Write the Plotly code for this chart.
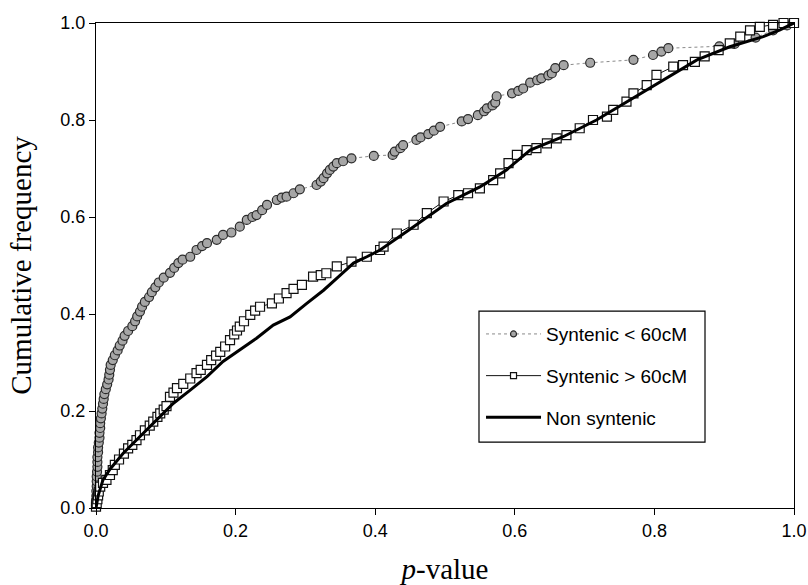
import plotly.graph_objects as go

# Syntenic < 60cM (circles)
syn_lt_x = [0.000, 0.000, 0.0005, 0.0005, 0.001, 0.001, 0.001, 0.0015, 0.002, 0.002,
            0.002, 0.003, 0.003, 0.004, 0.005, 0.005, 0.006, 0.006, 0.007, 0.008,
            0.009, 0.010, 0.011, 0.012, 0.014, 0.016, 0.018, 0.019, 0.020, 0.021,
            0.024, 0.027, 0.031, 0.034, 0.038, 0.041, 0.046, 0.052, 0.056, 0.059,
            0.063, 0.066, 0.070, 0.076, 0.080, 0.085, 0.090, 0.097, 0.106, 0.112,
            0.118, 0.124, 0.135, 0.144, 0.152, 0.159, 0.173, 0.182, 0.194, 0.206,
            0.216, 0.224, 0.230, 0.238, 0.245, 0.259, 0.266, 0.273, 0.283, 0.292,
            0.316, 0.322, 0.326, 0.331, 0.335, 0.340, 0.345, 0.354, 0.366, 0.398,
            0.425, 0.428, 0.436, 0.440, 0.459, 0.465, 0.476, 0.484, 0.493, 0.524,
            0.533, 0.547, 0.556, 0.560, 0.568, 0.572, 0.574, 0.596, 0.605, 0.612,
            0.622, 0.632, 0.638, 0.648, 0.653, 0.658, 0.670, 0.708, 0.770, 0.798,
            0.810, 0.820, 0.893, 0.915, 0.945, 0.970, 0.990, 1.000]
syn_lt_y = [0.005, 0.015, 0.025, 0.035, 0.045, 0.055, 0.065, 0.075, 0.085, 0.095,
            0.105, 0.115, 0.125, 0.135, 0.145, 0.155, 0.165, 0.175, 0.185, 0.195,
            0.205, 0.215, 0.225, 0.235, 0.245, 0.255, 0.265, 0.275, 0.285, 0.295,
            0.305, 0.315, 0.325, 0.335, 0.345, 0.355, 0.365, 0.375, 0.385, 0.395,
            0.405, 0.415, 0.425, 0.435, 0.445, 0.455, 0.465, 0.475, 0.485, 0.495,
            0.505, 0.512, 0.518, 0.532, 0.540, 0.546, 0.553, 0.563, 0.568, 0.580,
            0.594, 0.600, 0.604, 0.614, 0.625, 0.635, 0.640, 0.642, 0.649, 0.657,
            0.666, 0.673, 0.680, 0.690, 0.697, 0.704, 0.711, 0.715, 0.721, 0.726,
            0.728, 0.735, 0.742, 0.748, 0.759, 0.764, 0.771, 0.778, 0.786, 0.797,
            0.802, 0.810, 0.818, 0.824, 0.830, 0.836, 0.849, 0.855, 0.860, 0.865,
            0.877, 0.882, 0.886, 0.892, 0.896, 0.907, 0.913, 0.918, 0.924, 0.934,
            0.941, 0.948, 0.952, 0.957, 0.970, 0.985, 0.995, 1.000]

# Syntenic > 60cM (squares)
syn_gt_x = [0.000, 0.001, 0.002, 0.003, 0.004, 0.006, 0.010, 0.015, 0.020, 0.024,
            0.027, 0.033, 0.040, 0.046, 0.052, 0.058, 0.063, 0.070, 0.077, 0.082,
            0.088, 0.092, 0.097, 0.101, 0.106, 0.111, 0.116, 0.125, 0.135, 0.144,
            0.150, 0.159, 0.165, 0.172, 0.178, 0.185, 0.192, 0.198, 0.202, 0.206,
            0.212, 0.221, 0.228, 0.235, 0.252, 0.262, 0.273, 0.283, 0.295, 0.311,
            0.322, 0.330, 0.345, 0.366, 0.388, 0.407, 0.412, 0.431, 0.455, 0.474,
            0.498, 0.519, 0.533, 0.550, 0.569, 0.579, 0.591, 0.603, 0.617, 0.631,
            0.646, 0.660, 0.674, 0.693, 0.712, 0.732, 0.741, 0.760, 0.770, 0.789,
            0.803, 0.827, 0.841, 0.858, 0.872, 0.892, 0.908, 0.923, 0.937, 0.951,
            0.970, 0.985, 1.000]
syn_gt_y = [0.003, 0.010, 0.018, 0.026, 0.034, 0.044, 0.052, 0.058, 0.068, 0.078,
            0.089, 0.100, 0.112, 0.123, 0.130, 0.140, 0.150, 0.160, 0.170, 0.178,
            0.188, 0.195, 0.203, 0.210, 0.229, 0.238, 0.247, 0.256, 0.267, 0.278,
            0.285, 0.295, 0.305, 0.314, 0.322, 0.333, 0.346, 0.358, 0.366, 0.374,
            0.385, 0.398, 0.407, 0.415, 0.422, 0.432, 0.443, 0.452, 0.460, 0.477,
            0.480, 0.484, 0.498, 0.508, 0.518, 0.532, 0.539, 0.566, 0.584, 0.608,
            0.632, 0.645, 0.649, 0.659, 0.676, 0.690, 0.711, 0.728, 0.738, 0.742,
            0.752, 0.762, 0.769, 0.783, 0.800, 0.807, 0.821, 0.838, 0.855, 0.872,
            0.893, 0.910, 0.913, 0.920, 0.931, 0.944, 0.958, 0.972, 0.985, 0.992,
            0.996, 1.000, 1.000]

# Non syntenic (thick line)
non_x = [0.000, 0.003, 0.010, 0.020, 0.039, 0.063, 0.087, 0.111, 0.135, 0.159,
         0.182, 0.206, 0.230, 0.254, 0.278, 0.302, 0.326, 0.350, 0.369, 0.388,
         0.407, 0.455, 0.502, 0.550, 0.588, 0.622, 0.670, 0.717, 0.765, 0.813,
         0.861, 0.908, 0.956, 0.980, 1.000]
non_y = [0.000, 0.025, 0.058, 0.080, 0.113, 0.147, 0.181, 0.216, 0.243, 0.271,
         0.302, 0.326, 0.350, 0.377, 0.394, 0.422, 0.449, 0.480, 0.505, 0.518,
         0.532, 0.580, 0.628, 0.662, 0.697, 0.738, 0.766, 0.800, 0.841, 0.882,
         0.924, 0.951, 0.972, 0.986, 1.000]

series_names = ["Syntenic < 60cM", "Syntenic > 60cM", "Non syntenic"]

tick_vals = [0.0, 0.2, 0.4, 0.6, 0.8, 1.0]
tick_text = ["0.0", "0.2", "0.4", "0.6", "0.8", "1.0"]

SANS = "Liberation Sans, Arial, sans-serif"
SERIF = "Liberation Serif, Times New Roman, serif"

lt_line = dict(color="#8a8a8a", width=1, dash="dot")
gt_line = dict(color="#111111", width=1)
non_line = dict(color="#000000", width=3)

fig = go.Figure()
# data traces
fig.add_trace(go.Scatter(
    x=syn_lt_x, y=syn_lt_y, name=series_names[0], showlegend=False,
    mode="lines+markers", cliponaxis=False, line=lt_line,
    marker=dict(symbol="circle", size=9, color="#a6a6a6",
                line=dict(color="#2a2a2a", width=1.2)),
))
fig.add_trace(go.Scatter(
    x=syn_gt_x, y=syn_gt_y, name=series_names[1], showlegend=False,
    mode="lines+markers", cliponaxis=False, line=gt_line,
    marker=dict(symbol="square", size=9, color="white",
                line=dict(color="#111111", width=1.2)),
))
fig.add_trace(go.Scatter(
    x=non_x, y=non_y, name=series_names[2], showlegend=False,
    mode="lines", cliponaxis=False, line=non_line,
))
# legend-only entries (smaller legend symbols, as in the original)
fig.add_trace(go.Scatter(
    x=[None], y=[None], name=series_names[0], legendgroup="a",
    mode="lines+markers", line=lt_line,
    marker=dict(symbol="circle", size=6, color="#a6a6a6",
                line=dict(color="#2a2a2a", width=1.2)),
))
fig.add_trace(go.Scatter(
    x=[None], y=[None], name=series_names[1], legendgroup="b",
    mode="lines+markers", line=gt_line,
    marker=dict(symbol="square", size=6, color="white",
                line=dict(color="#111111", width=1.2)),
))
fig.add_trace(go.Scatter(
    x=[None], y=[None], name=series_names[2], legendgroup="c",
    mode="lines", line=non_line,
))

axis_common = dict(
    range=[0, 1], tickvals=tick_vals, ticktext=tick_text,
    showline=True, linecolor="black", linewidth=1.3, mirror=True,
    ticks="outside", ticklen=6, tickcolor="black", tickwidth=1.2,
    showgrid=False, zeroline=False, automargin=False,
    tickfont=dict(family=SANS, size=18, color="black"),
)

# legend frame (paper coordinates)
fig.add_shape(type="rect", xref="paper", yref="paper",
              x0=0.5487, x1=0.8725, y0=0.136, y1=0.406,
              line=dict(color="black", width=1.2), fillcolor="white",
              layer="above")

fig.update_layout(
    width=808, height=585,
    margin=dict(l=96, r=14, t=23, b=77),
    paper_bgcolor="white", plot_bgcolor="white",
    xaxis=dict(**axis_common,
               title=dict(text="<i>p</i>-value", standoff=18,
                          font=dict(family=SERIF, size=29, color="black"))),
    yaxis=dict(**axis_common,
               title=dict(text="Cumulative frequency", standoff=20,
                          font=dict(family=SERIF, size=29, color="black"))),
    legend=dict(x=0.5516, y=0.272, xanchor="left", yanchor="middle",
                bgcolor="rgba(0,0,0,0)", borderwidth=0,
                font=dict(family=SANS, size=19, color="black"),
                tracegroupgap=14, itemwidth=55),
    showlegend=True,
)

fig.write_html("out.html")
